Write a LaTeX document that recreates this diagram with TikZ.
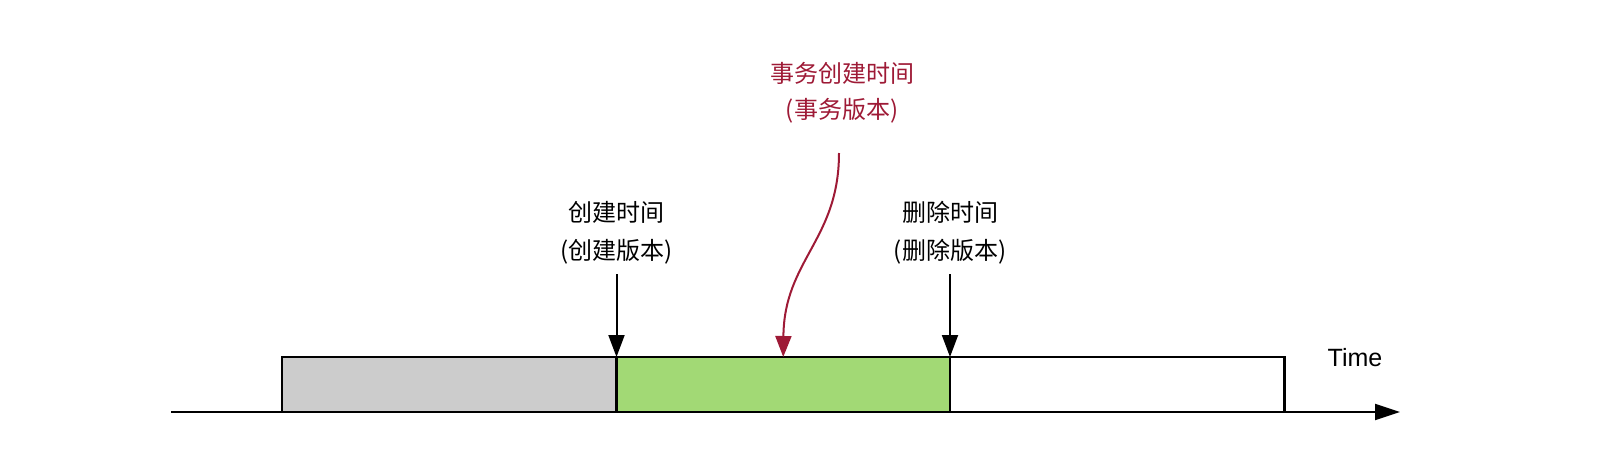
\documentclass[tikz,border=0pt]{standalone}
\usepackage{fontspec}
\setmainfont{Liberation Sans}
\newfontfamily\cjk{Noto Sans CJK SC}
\usetikzlibrary{arrows.meta}
\definecolor{txred}{HTML}{9E1A36}
\definecolor{bargrey}{HTML}{CCCCCC}
\definecolor{bargreen}{HTML}{A2D975}
\begin{document}
\begin{tikzpicture}[x=0.5pt,y=-0.5pt,
  bar/.style={draw=black,line width=1.3pt,inner sep=0pt,outer sep=0pt,minimum height=27.5pt,anchor=south west},
  lbl/.style={align=center,font=\cjk\fontsize{12}{19}\selectfont,inner sep=0pt},
  redlbl/.style={align=center,font=\cjk\fontsize{12}{18}\selectfont,inner sep=0pt,text=txred},
  blk/.style={line width=1pt,-{Triangle[length=11pt,width=8pt]}},
  redarrow/.style={draw=txred,line width=1pt,-{Triangle[length=10.5pt,width=8pt]}},
  axis/.style={line width=1pt,-{Triangle[length=12.5pt,width=8pt]}}]
\path[use as bounding box] (0,0) rectangle (1614,450);
% axis
\coordinate (a0) at (171,412);
\coordinate (a1) at (1400,412);
\draw[axis] (a0) -- (a1);
% bars
\node[bar,fill=bargrey,minimum width=167.25pt] (box1) at (282,412) {};
\node[bar,fill=bargreen,minimum width=166.75pt] (box2) at (616.5,412) {};
\node[bar,fill=white,minimum width=167.25pt] (box3) at (950,412) {};
% labels
\node[lbl] (l1) at (616.5,233) {创建时间\\(创建版本)};
\node[lbl] (l2) at (950,233) {删除时间\\(删除版本)};
\node[redlbl] (l3) at (842,93) {事务创建时间\\(事务版本)};
\node[font=\fontsize{12.5}{15}\selectfont,inner sep=0pt] (time) at (1355,358) {Time};
% arrows
\coordinate (c1) at (616.5,274);
\coordinate (c2) at (950,274);
\coordinate (c3) at (839,153);
\draw[blk] (c1) -- (box1.north east);
\draw[blk] (c2) -- (box2.north east);
\draw[redarrow] (c3) .. controls (839,240) and (784,260) .. (box2.north);
\end{tikzpicture}
\end{document}
